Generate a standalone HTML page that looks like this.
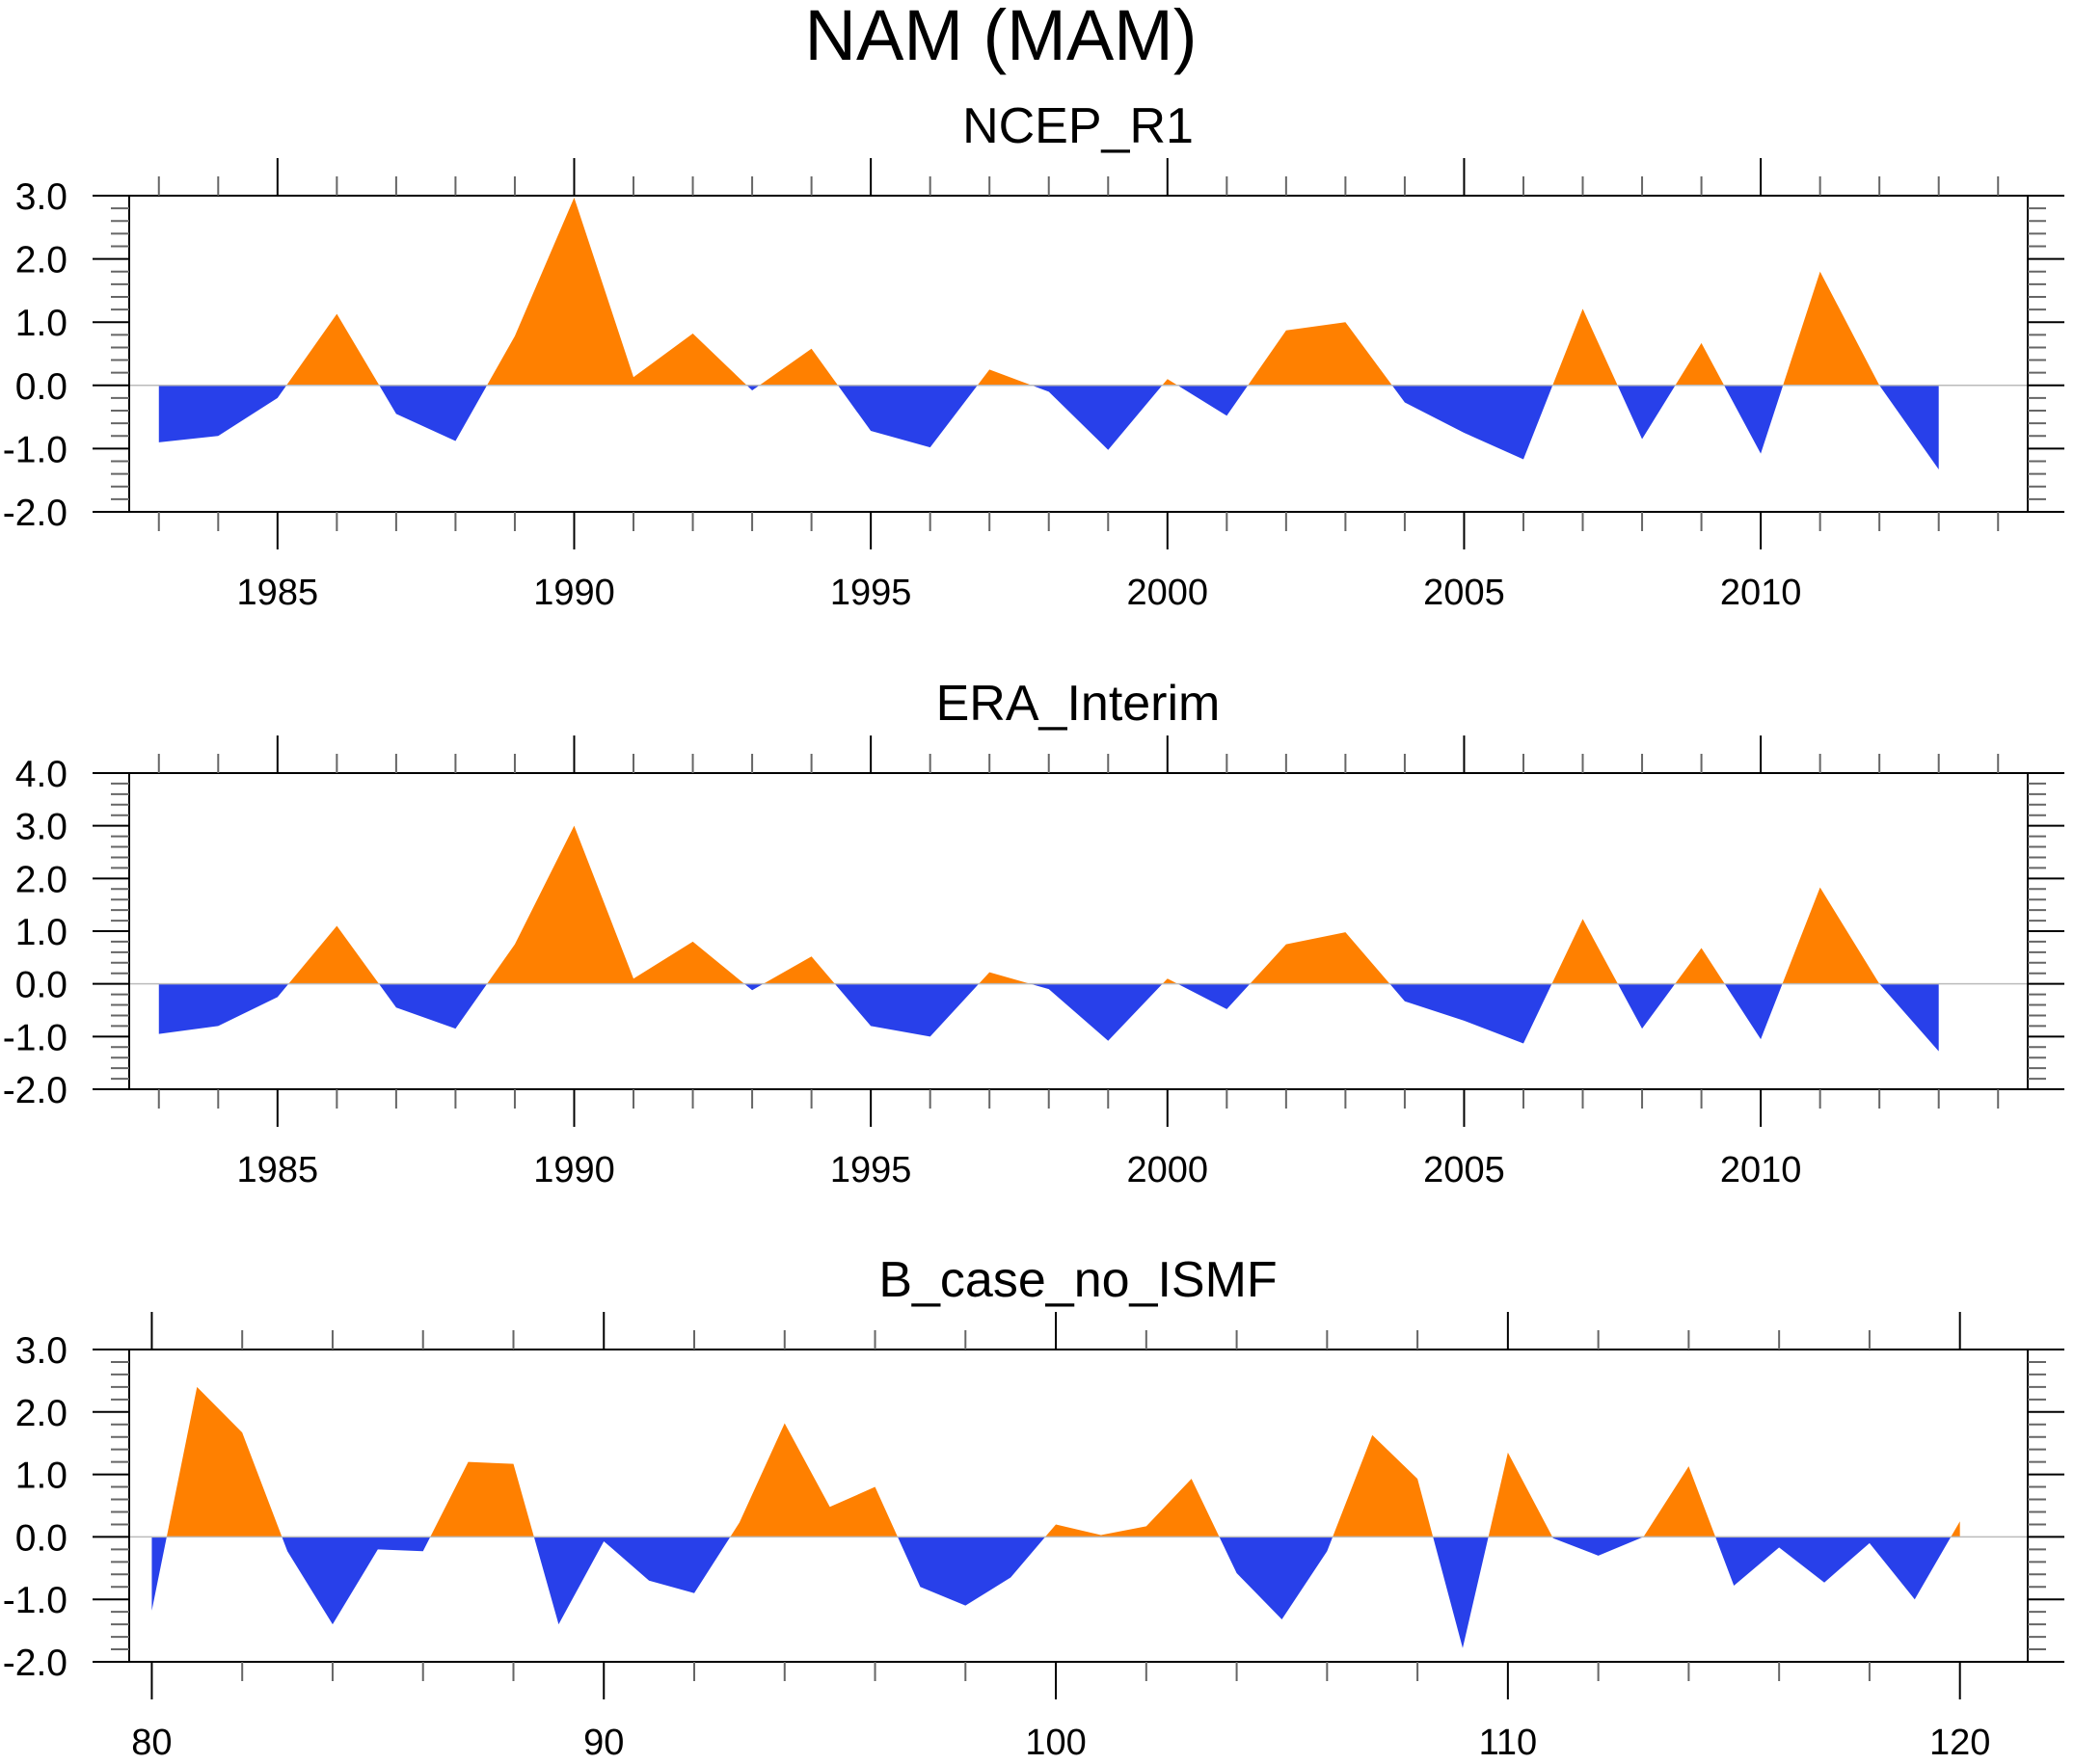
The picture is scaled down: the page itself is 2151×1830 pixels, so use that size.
<!DOCTYPE html>
<html><head><meta charset="utf-8"><style>
html,body{margin:0;padding:0;background:#fff;}
svg{display:block;font-family:"Liberation Sans",sans-serif;}
</style></head><body>
<svg id="fig" width="2151" height="1830" viewBox="0 0 2151 1830" xmlns="http://www.w3.org/2000/svg">
<text x="1038" y="62" font-size="74" text-anchor="middle">NAM (MAM)</text>
</svg>
<script>
const yearsObs = [1983,1984,1985,1986,1987,1988,1989,1990,1991,1992,1993,1994,1995,1996,1997,1998,1999,2000,2001,2002,2003,2004,2005,2006,2007,2008,2009,2010,2011,2012,2013];
const ncepValues = [-0.9,-0.8,-0.2,1.13,-0.45,-0.88,0.78,2.97,0.13,0.82,-0.08,0.58,-0.72,-0.98,0.25,-0.1,-1.02,0.1,-0.48,0.87,1.0,-0.27,-0.75,-1.17,1.21,-0.85,0.67,-1.08,1.8,0.0,-1.33];
const eraValues = [-0.95,-0.8,-0.25,1.1,-0.45,-0.85,0.75,3.0,0.1,0.8,-0.12,0.52,-0.8,-1.0,0.22,-0.1,-1.08,0.1,-0.48,0.75,0.98,-0.33,-0.7,-1.13,1.23,-0.85,0.68,-1.05,1.83,0.0,-1.28];
const yearsModel = [80,81,82,83,84,85,86,87,88,89,90,91,92,93,94,95,96,97,98,99,100,101,102,103,104,105,106,107,108,109,110,111,112,113,114,115,116,117,118,119,120];
const modelValues = [-1.18,2.4,1.67,-0.23,-1.4,-0.2,-0.23,1.2,1.17,-1.4,-0.07,-0.7,-0.9,0.23,1.82,0.48,0.8,-0.8,-1.1,-0.65,0.2,0.03,0.17,0.93,-0.58,-1.32,-0.23,1.63,0.93,-1.78,1.35,-0.02,-0.3,0.0,1.13,-0.78,-0.17,-0.73,-0.1,-1.0,0.25];
const obsMajorTicks = [1985,1990,1995,2000,2005,2010];
const modelMajorTicks = [80,90,100,110,120];
const yTicks1 = ["-2.0","-1.0","0.0","1.0","2.0","3.0"];
const yTicks2 = ["-2.0","-1.0","0.0","1.0","2.0","3.0","4.0"];

const NS="http://www.w3.org/2000/svg";
const svg=document.getElementById('fig');
function mk(tag,attrs,parent){const e=document.createElementNS(NS,tag);for(const k in attrs)e.setAttribute(k,attrs[k]);(parent||svg).appendChild(e);return e;}

function panel(cfg){
  const L=134,R=2103,T=cfg.top,B=cfg.bottom;
  const g=mk('g',{});
  
  
  const xs=v=>L+(v-cfg.xmin)/(cfg.xmax-cfg.xmin)*(R-L);
  const ys=v=>B-(v-cfg.ymin)/(cfg.ymax-cfg.ymin)*(B-T);
  const t=mk('text',{x:1118,y:T-55,'font-size':52,'text-anchor':'middle'},g);
  t.textContent=cfg.title;
  
  
  const id=cfg.name;
  const y0=ys(0);
  const defs=mk('defs',{},g);
  const cpA=mk('clipPath',{id:id+'-above'},defs);
  mk('rect',{x:L,y:T,width:R-L,height:y0-T},cpA);
  const cpB=mk('clipPath',{id:id+'-below'},defs);
  mk('rect',{x:L,y:y0,width:R-L,height:B-y0},cpB);
  let pts=xs(cfg.x[0]).toFixed(2)+','+y0.toFixed(2)+' ';
  cfg.x.forEach((xv,i)=>{pts+=xs(xv).toFixed(2)+','+ys(cfg.y[i]).toFixed(2)+' ';});
  pts+=xs(cfg.x[cfg.x.length-1]).toFixed(2)+','+y0.toFixed(2);
  const pa=mk('polygon',{points:pts,fill:'#FF8000','clip-path':'url(#'+id+'-above)'},g);
  
  
  const pb=mk('polygon',{points:pts,fill:'#2840EA','clip-path':'url(#'+id+'-below)'},g);
  
  
  const zl=mk('line',{x1:L,x2:R,y1:y0,y2:y0,stroke:'#bbb','stroke-width':1.5},g);
  
  
  const box=mk('rect',{x:L,y:T,width:R-L,height:B-T,fill:'none',stroke:'#000','stroke-width':2},g);
  
  
  for(let v=Math.ceil(cfg.xmin);v<=cfg.xmax;v+=cfg.minorStep){
    const major=cfg.majors.indexOf(v)>=0;
    const len=major?39:20, X=xs(v);
    mk('line',{x1:X,x2:X,y1:T,y2:T-len,stroke:major?'#000':'#666','stroke-width':2},g);
    mk('line',{x1:X,x2:X,y1:B,y2:B+len,stroke:major?'#000':'#666','stroke-width':2},g);
    if(major){
      const lb=mk('text',{x:X,y:B+96,'font-size':38,'text-anchor':'middle'},g);
      lb.textContent=String(v);
      
      
    }
  }
  cfg.yLabels.forEach(s=>{
    const v=parseFloat(s),Y=ys(v);
    mk('line',{x1:L,x2:L-38,y1:Y,y2:Y,stroke:'#000','stroke-width':2},g);
    mk('line',{x1:R,x2:R+38,y1:Y,y2:Y,stroke:'#000','stroke-width':2},g);
    const lb=mk('text',{x:70,y:Y+14,'font-size':39,'text-anchor':'end'},g);
    lb.textContent=s;
    
    
  });
  for(let v=cfg.ymin;v<cfg.ymax-0.01;v+=1){
    for(let k=1;k<5;k++){
      const Y=ys(v+k*0.2);
      mk('line',{x1:L,x2:L-19,y1:Y,y2:Y,stroke:'#666','stroke-width':2},g);
      mk('line',{x1:R,x2:R+19,y1:Y,y2:Y,stroke:'#666','stroke-width':2},g);
    }
  }
}
panel({name:'ncep-r1',title:'NCEP_R1',top:203,bottom:531,xmin:1982.5,xmax:2014.5,ymin:-2,ymax:3,x:yearsObs,y:ncepValues,majors:obsMajorTicks,minorStep:1,yLabels:yTicks1});
panel({name:'era-interim',title:'ERA_Interim',top:802,bottom:1130,xmin:1982.5,xmax:2014.5,ymin:-2,ymax:4,x:yearsObs,y:eraValues,majors:obsMajorTicks,minorStep:1,yLabels:yTicks2});
panel({name:'b-case-no-ismf',title:'B_case_no_ISMF',top:1400,bottom:1724,xmin:79.5,xmax:121.5,ymin:-2,ymax:3,x:yearsModel,y:modelValues,majors:modelMajorTicks,minorStep:2,yLabels:yTicks1});
</script>
</body></html>
